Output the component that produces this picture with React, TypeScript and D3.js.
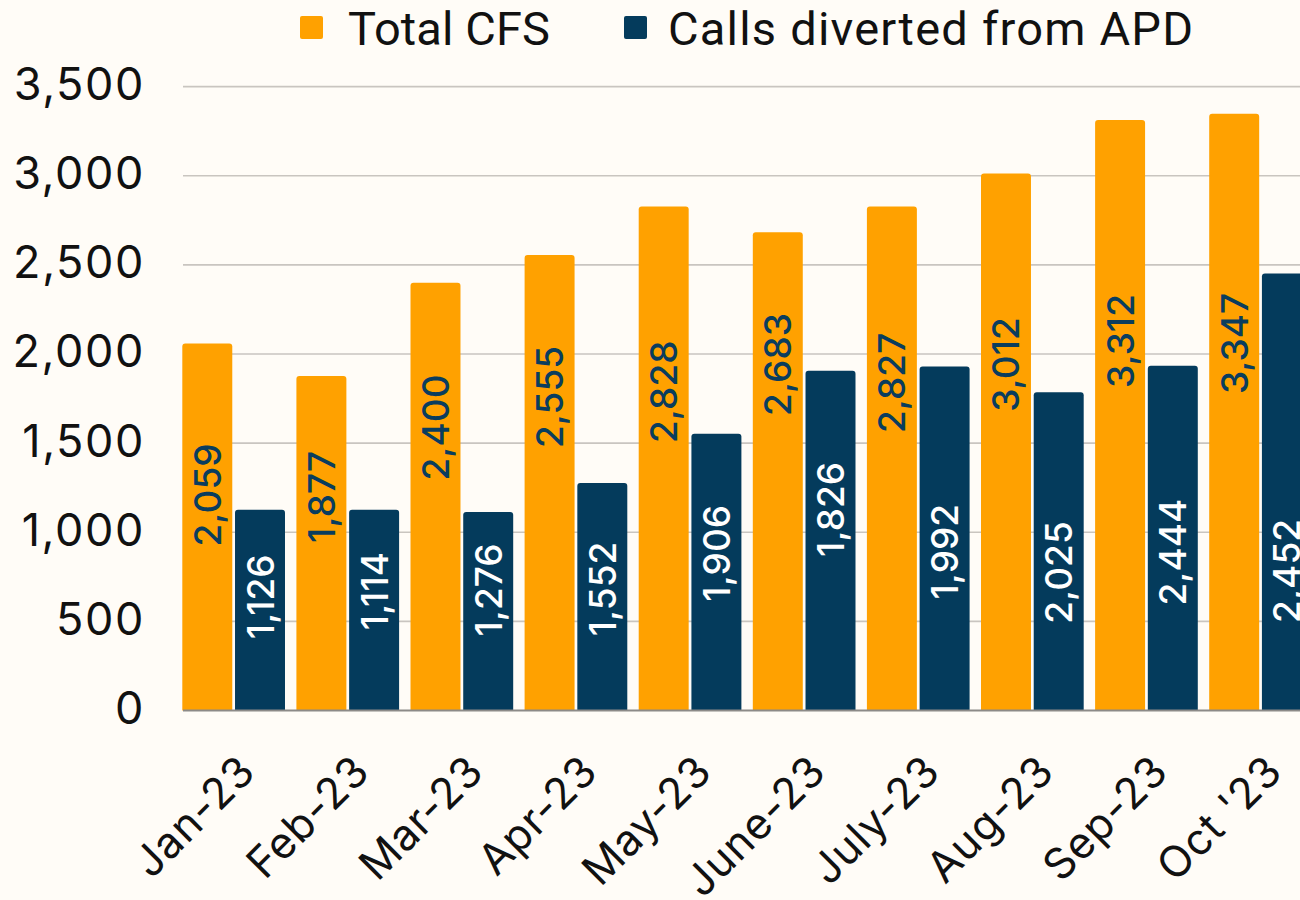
import React from "react";
import * as d3 from "d3";

const months = ["Jan-23", "Feb-23", "Mar-23", "Apr-23", "May-23", "June-23", "July-23", "Aug-23", "Sep-23", "Oct '23"];
const totalCFS = [2059, 1877, 2400, 2555, 2828, 2683, 2827, 3012, 3312, 3347];
// bar heights as drawn in the reference
const divertedBars = [1126, 1126, 1114, 1276, 1552, 1906, 1930, 1785, 1934, 2452];
// data labels as printed in the reference
const divertedLabels = [1126, 1114, 1276, 1552, 1906, 1826, 1992, 2025, 2444, 2452];
// where the printed labels sit, in axis units
const totalLabelAt = [1209, 1198, 1588, 1759, 1788, 1941, 1838, 1941, 2073, 2059];
const divertedLabelAt = [638, 670, 676, 682, 882, 1128, 891, 774, 889, 783];
const yTicks = [0, 500, 1000, 1500, 2000, 2500, 3000, 3500];
const seriesNames = ["Total CFS", "Calls diverted from APD"];

const W = 1300;
const H = 900;
const ORANGE = "#FFA100";
const BLUE = "#043B5C";
const BG = "#FFFCF7";

function topRounded(x: number, y: number, w: number, h: number, r: number) {
  const rr = Math.min(r, h, w / 2);
  return `M${x},${y + h}V${y + rr}Q${x},${y} ${x + rr},${y}H${x + w - rr}Q${x + w},${y} ${x + w},${y + rr}V${y + h}Z`;
}

export default function App() {
  const y = d3.scaleLinear().domain([0, 3500]).range([710.5, 86.6]);
  const x = d3.scaleBand<string>().domain(months).range([176.6, 1317.6]).paddingInner(0.1).paddingOuter(0.05);
  const sub = d3.scaleBand<number>().domain([0, 1]).range([0, x.bandwidth()]).paddingInner(0.052);
  const fmt = d3.format(",");
  const bw = sub.bandwidth();

  return (
    <svg width={W} height={H} style={{ position: "fixed", left: 0, top: 0, background: BG }}>
      <rect x={0} y={0} width={W} height={H} fill={BG} />
      {/* gridlines */}
      {yTicks.filter((t) => t > 0).map((t) => (
        <line key={t} x1={183} x2={1317} y1={y(t)} y2={y(t)} stroke="#C9C5C0" strokeWidth={1.6} />
      ))}
      {/* y tick labels */}
      {yTicks.map((t) => (
        <text key={"l" + t} x={145} y={y(t) - 3} textAnchor="end" dominantBaseline="central"
          fontFamily="Inter" fontSize={45} letterSpacing={1.6} fill="#111">{fmt(t)}</text>
      ))}
      {/* bars */}
      {months.map((m, i) => {
        const x0 = x(m)!;
        const xo = x0 + sub(0)!;
        const xb = x0 + sub(1)!;
        return (
          <g key={m}>
            <path d={topRounded(xo, y(totalCFS[i]), bw, y(0) - y(totalCFS[i]), 3)} fill={ORANGE} />
            <path d={topRounded(xb, y(divertedBars[i]), bw, y(0) - y(divertedBars[i]), 3)} fill={BLUE} />
          </g>
        );
      })}
      {/* baseline */}
      <line x1={183} x2={1317} y1={y(0)} y2={y(0)} stroke="#8C8A88" strokeWidth={2} />
      {/* data labels */}
      {months.map((m, i) => {
        const x0 = x(m)!;
        const cxo = x0 + sub(0)! + bw / 2;
        const cxb = x0 + sub(1)! + bw / 2;
        const yo = y(totalLabelAt[i]);
        const yb = y(divertedLabelAt[i]);
        return (
          <g key={"dl" + m}>
            <text transform={`translate(${cxo},${yo}) rotate(-90)`} textAnchor="middle" dominantBaseline="central"
              fontFamily="Inter" fontWeight={500} fontSize={37} fill="#0A3D5E">{fmt(totalCFS[i])}</text>
            <text transform={`translate(${cxb},${yb}) rotate(-90)`} textAnchor="middle" dominantBaseline="central"
              fontFamily="Inter" fontWeight={500} fontSize={37} fill="#FFFFFF">{fmt(divertedLabels[i])}</text>
          </g>
        );
      })}
      {/* x tick labels */}
      {months.map((m) => {
        const cx = x(m)! + x.bandwidth() / 2 + 24;
        return (
          <text key={"t" + m} transform={`translate(${cx},774) rotate(-45)`} textAnchor="end"
            fontFamily="Inter" fontSize={43} letterSpacing={0.8} fill="#111">{m}</text>
        );
      })}
      {/* legend */}
      <rect x={300} y={16} width={23} height={23} rx={2} fill={ORANGE} />
      <text x={348} y={45} fontFamily="Roboto" fontSize={47} textLength={202} lengthAdjust="spacing" fill="#111">{seriesNames[0]}</text>
      <rect x={624} y={16} width={23} height={23} rx={2} fill={BLUE} />
      <text x={668} y={45} fontFamily="Roboto" fontSize={47} textLength={525} lengthAdjust="spacing" fill="#111">{seriesNames[1]}</text>
    </svg>
  );
}
